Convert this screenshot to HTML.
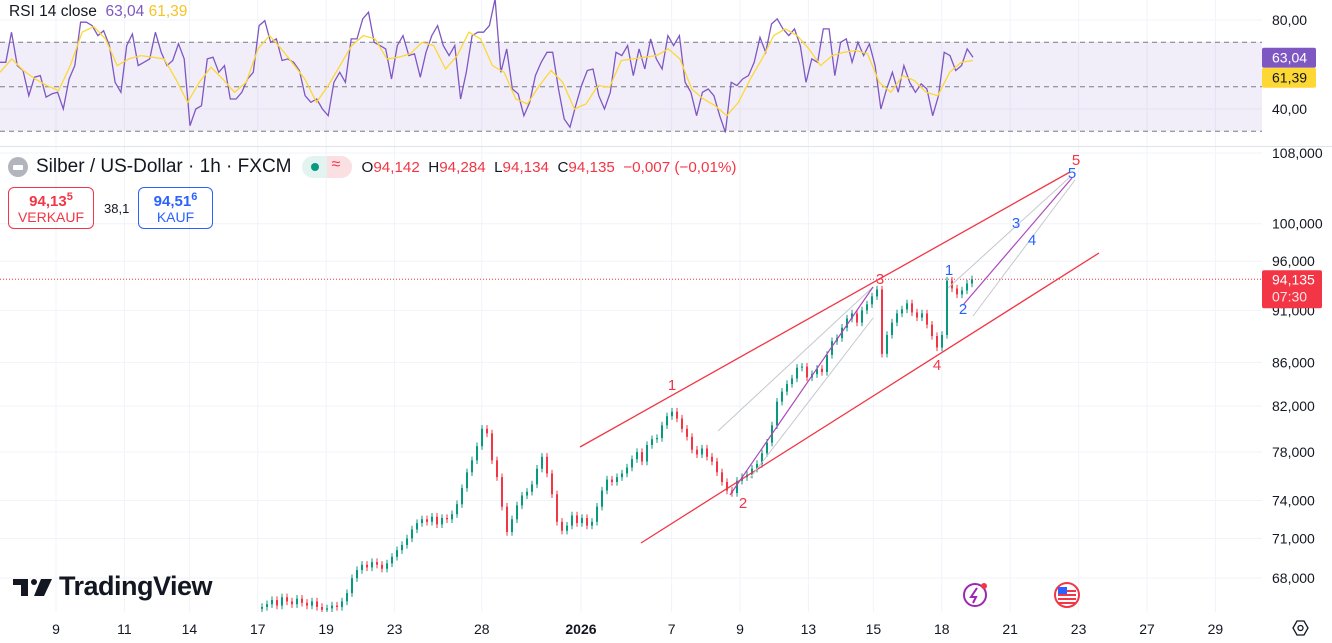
<!DOCTYPE html>
<html><head><meta charset="utf-8">
<style>
html,body{margin:0;padding:0;background:#fff;width:1332px;height:643px;overflow:hidden;font-family:"Liberation Sans",sans-serif;}
svg{position:absolute;left:0;top:0;}
text{font-family:"Liberation Sans",sans-serif;}
</style></head>
<body>
<svg id="chart" width="1332" height="643">
  <defs>
    <clipPath id="plotclip"><rect x="0" y="148" width="1262" height="464"/></clipPath>
    <clipPath id="rsiclip"><rect x="0" y="0" width="1262" height="146"/></clipPath>
  </defs>
  <g id="grid"></g>
  <rect x="0" y="42" width="1262" height="89" fill="#7e57c2" fill-opacity="0.1"/>
  <g id="rsiLines"></g>
  <g id="rsi" clip-path="url(#rsiclip)"></g>
  <line x1="0" y1="146.5" x2="1332" y2="146.5" stroke="#e0e3eb" stroke-width="1"/>
  <g id="candles" clip-path="url(#plotclip)"></g>
  <g id="draw"></g>
  <g id="axes"></g>
</svg>

<div style="position:absolute;left:9px;top:3px;font-size:15.5px;color:#131722;white-space:nowrap">RSI 14 close&nbsp; <span style="color:#7e57c2">63,04</span> <span style="color:#f7c325">61,39</span></div>

<div style="position:absolute;left:8px;top:156px;height:22px;white-space:nowrap;display:flex;align-items:center">
  <div style="width:20px;height:20px;border-radius:50%;background:#b2b5be;margin-right:8px;position:relative"><div style="position:absolute;left:5px;top:8px;width:10px;height:5px;background:#fff;border-radius:1px"></div></div>
  <span style="font-size:19px;color:#131722">Silber / US-Dollar · 1h · FXCM</span>
  <div style="margin-left:10px;width:50px;height:22px;border-radius:11px;background:#e3f3ef;position:relative;overflow:hidden">
    <div style="position:absolute;left:25px;top:0;width:25px;height:22px;background:#fbe0e3"></div>
    <div style="position:absolute;left:9px;top:7px;width:8px;height:8px;border-radius:50%;background:#089981"></div>
    <div style="position:absolute;left:30px;top:0px;font-size:16px;color:#f23645">≈</div>
  </div>
  <span style="margin-left:10px;font-size:15.2px;color:#131722">O<span style="color:#f23645">94,142</span>&nbsp; H<span style="color:#f23645">94,284</span>&nbsp; L<span style="color:#f23645">94,134</span>&nbsp; C<span style="color:#f23645">94,135&nbsp; −0,007 (−0,01%)</span></span>
</div>

<div style="position:absolute;left:8px;top:187px;width:86px;height:42px;border:1px solid #f23645;border-radius:6px;text-align:center;color:#f23645;box-sizing:border-box">
  <div style="font-size:15px;font-weight:bold;margin-top:3px">94,13<sup style="font-size:11px">5</sup></div>
  <div style="font-size:14px;margin-top:-1px">VERKAUF</div>
</div>
<div style="position:absolute;left:104px;top:201px;font-size:13px;color:#131722">38,1</div>
<div style="position:absolute;left:138px;top:187px;width:75px;height:42px;border:1px solid #2962ff;border-radius:6px;text-align:center;color:#2962ff;box-sizing:border-box">
  <div style="font-size:15px;font-weight:bold;margin-top:3px">94,51<sup style="font-size:11px">6</sup></div>
  <div style="font-size:14px;margin-top:-1px">KAUF</div>
</div>

<div style="position:absolute;left:13px;top:571px;display:flex;align-items:center;white-space:nowrap">
  <svg width="40" height="22" style="position:static"><rect x="0" y="3" width="15" height="6" fill="#131722"/><rect x="8" y="3" width="7" height="17" fill="#131722"/><circle cx="21" cy="6" r="3" fill="#131722"/><polygon points="28,3 39,3 31,20 21,20" fill="#131722"/></svg>
  <span style="font-size:27px;font-weight:bold;color:#131722;margin-left:6px;letter-spacing:-0.5px">TradingView</span>
</div>

<script>
// ---------- data ----------
const priceCloses = [65900,66100,66400,66000,66600,66300,66100,66500,66200,66000,66300,65900,65700,65800,66000,65900,66300,66900,68000,68600,69000,68800,69200,69000,68700,69100,69600,70100,70500,71000,71700,72200,72500,72300,72700,72100,72600,72500,72900,73700,75000,76300,77300,78500,80000,79600,77300,75900,73500,71500,72500,73600,74400,74700,75300,76600,77600,76200,74500,72300,71600,72000,72800,72200,72600,72000,72300,73500,74800,75700,75500,75900,76200,76700,77400,78000,77200,78600,79100,79200,80300,81100,81500,80900,80000,79300,78200,77800,78300,77600,77200,76300,75500,74800,74600,75600,75900,76100,76600,77000,77900,78800,80300,82400,83300,84000,84500,85500,85600,84600,84900,85400,85100,86700,88000,88300,89300,90200,90700,89800,91000,91600,92400,93100,86800,88600,89800,90700,91100,91700,90800,90300,90700,89600,88500,87400,88600,94000,93200,92600,93000,93700,94135];
const rsiValues = [61,61,74.5,59.5,57.3,46,54.3,55,45.3,46.8,47.5,40,53.5,59.5,79,79,77.5,73,75.2,68.5,52,47.5,68.5,73.7,59.5,61,62.5,74.5,65.5,59.5,61.8,69.3,62.5,32.5,40,41.5,62.5,63.3,56.5,59.5,44.5,44.5,47.5,53.5,56.5,77.5,79.7,70,71.5,61.8,62.5,61,57.3,46,43,44.5,40,37,52,56.5,52,71.5,71.5,80.5,83.5,70,68.5,67,53.5,68.5,73,64,64.8,54.3,65.5,73,77.5,68.5,64,68.5,44.5,56.5,73,74.5,74.5,77.5,89.5,56.5,67,49,46.8,37,43,55,61,65.5,65.5,49,35.5,31.8,41.5,50.5,57.3,58,46,40,47.5,65.5,64,68.5,55,67,58,71.5,62.5,58,73,68.5,73,52,47.5,37,47.5,49,46,37,29.5,52,50.5,53.5,55,61,72.2,65.5,78.2,80.5,76,73,76,68.5,52,62.5,61,76,76,55,70,71.5,61,70,64,69.3,59.5,40,49,56.5,47.5,59.5,52,47.5,51.3,49,37,46,65.5,64,57.3,59.5,67,63.3];
const rsiMA = [56.5,62.5,57.3,53.5,50.5,48.3,59.5,74.5,77,71.5,59.5,62.5,64,63.3,62.5,53.5,43,52,58.8,53.5,47.5,52,67,73,67,60.3,53.5,43,50.5,59.5,68.5,73,71.5,62.5,63.3,64.8,70,68.5,58,64,74.5,71.5,59.5,56.5,44.5,42.3,50.5,57.3,52,40,42.3,50.5,49.8,61.8,62.5,63.3,64,67,62.5,49,44.5,41.5,37,43,53.5,62.5,73,76,73,67,59.5,64,65.5,66.3,64.8,52,47.5,55,52.8,47.5,46,56.5,61,61.8];
const priceTicks = [108000,100000,96000,91000,86000,82000,78000,74000,71000,68000];
const rsiTicks = [80,40];
const timeLabels = ["9","11","14","17","19","23","28","2026","7","9","13","15","18","21","23","27","29"];
const timeSlots = [0,2,3.9,5.9,7.9,9.9,12.45,15.35,18,20,22,23.9,25.9,27.9,29.9,31.9,33.9]; // trading-day offset of each label

// ---------- scales ----------
const NS='http://www.w3.org/2000/svg';
const yP = p => 153 + 919*Math.log(108000/p);
const yR = v => 20 + (80-v)*2.225;
const xDay = d => 56 + d*34.2;
const candleX = i => 262 + i*5;
const rsiX = (i,n) => i*973/(n-1);
function mk(tag, attrs, parent){const e=document.createElementNS(NS,tag);for(const k in attrs)e.setAttribute(k,attrs[k]);parent.appendChild(e);return e;}

const grid=document.getElementById('grid');
timeSlots.forEach((d,i)=>{
  const l=mk('line',{x1:xDay(d),x2:xDay(d),y1:0,y2:612,stroke:'#f0f3fa','stroke-width':1},grid);
  
  
});
priceTicks.forEach(p=>{
  const l=mk('line',{x1:0,x2:1262,y1:yP(p),y2:yP(p),stroke:'#f0f3fa','stroke-width':1},grid);
  
  
});
rsiTicks.forEach(v=>{
  const l=mk('line',{x1:0,x2:1262,y1:yR(v),y2:yR(v),stroke:'#f0f3fa','stroke-width':1},grid);
  
  
});
const rl=document.getElementById('rsiLines');
[70,50,30].forEach(v=>{
  const l=mk('line',{x1:0,x2:1262,y1:yR(v),y2:yR(v),stroke:'#787b86','stroke-width':1,'stroke-dasharray':'5,4'},rl);
  
  
});

// RSI lines
const rsiG=document.getElementById('rsi');
const rp=rsiValues.map((v,i)=>rsiX(i,rsiValues.length).toFixed(1)+','+yR(v).toFixed(1)).join(' ');
const rline=mk('polyline',{points:rp,fill:'none',stroke:'#7e57c2','stroke-width':1.3},rsiG);


const mp=rsiMA.map((v,i)=>rsiX(i,rsiMA.length).toFixed(1)+','+yR(v).toFixed(1)).join(' ');
const mline=mk('polyline',{points:mp,fill:'none',stroke:'#fdd835','stroke-width':1.3},rsiG);



// candles
const cg=document.getElementById('candles');
priceCloses.forEach((c,i)=>{
  const o = i>0 ? priceCloses[i-1] : c*0.998;
  const hi=Math.max(o,c)*1.004, lo=Math.min(o,c)*0.996;
  const col = c>=o ? '#089981' : '#f23645';
  const x=candleX(i);
  const w=mk('line',{x1:x,x2:x,y1:yP(hi),y2:yP(lo),stroke:col,'stroke-width':1},cg);
  
  
  const top=yP(Math.max(o,c)), bot=yP(Math.min(o,c));
  const b=mk('rect',{x:x-1,y:top,width:2,height:Math.max(1,bot-top),fill:col},cg);
  
  
});

// drawings
const dg=document.getElementById('draw');
function ln(x1,y1,x2,y2,col,w,name){const l=mk('line',{x1,y1,x2,y2,stroke:col,'stroke-width':w},dg);}
function lbl(x,y,t,col,name){const e=mk('text',{x,y,fill:col,'font-size':15,'text-anchor':'middle'},dg);e.textContent=t;}
const last=priceCloses[priceCloses.length-1];
const dl=mk('line',{x1:0,x2:1262,y1:yP(last),y2:yP(last),stroke:'#f23645','stroke-width':1,'stroke-dasharray':'1,2'},dg);


ln(580,447,1070,172,'#f23645',1.3,'channel-upper');
ln(641,543,1099,253,'#f23645',1.3,'channel-lower');
ln(718,431,873,287,'#c5c7ce',1,'wave-guide-upper');
ln(750,478,873,318,'#c5c7ce',1,'wave-guide-lower');
ln(730,495,873,287,'#ab47bc',1.2,'wave-3-line');
ln(948,288,1070,177,'#c5c7ce',1,'sub-guide-upper');
ln(973,316,1075,180,'#c5c7ce',1,'sub-guide-lower');
ln(963,305,1072,178,'#ab47bc',1.2,'sub-wave-line');
lbl(672,390,'1','#f23645','wave-label-1');
lbl(743,508,'2','#f23645','wave-label-2');
lbl(880,284,'3','#f23645','wave-label-3');
lbl(937,370,'4','#f23645','wave-label-4');
lbl(1076,165,'5','#f23645','wave-label-5');
lbl(949,275,'1','#2962ff','sub-label-1');
lbl(963,314,'2','#2962ff','sub-label-2');
lbl(1016,228,'3','#2962ff','sub-label-3');
lbl(1032,245,'4','#2962ff','sub-label-4');
lbl(1072,178,'5','#2962ff','sub-label-5');

// axes
const ag=document.getElementById('axes');
function txt(x,y,t,opts,name){const e=mk('text',Object.assign({x,y,fill:'#131722','font-size':14},opts),ag);e.textContent=t;return e;}
priceTicks.forEach(p=>{
  txt(1272,yP(p)+5,(p/1000).toFixed(3).replace('.',','),{},'price-tick-label');
});
rsiTicks.forEach(v=>{
  txt(1272,yR(v)+5,v.toFixed(2).replace('.',','),{},'rsi-tick-label');
});
timeLabels.forEach((t,i)=>{
  txt(xDay(timeSlots[i]),634,t,{'text-anchor':'middle','font-weight':t==='2026'?'bold':'normal'},'time-tick-label');
});
// RSI value tags
const r1=mk('rect',{x:1262,y:yR(63.04)-10,width:54,height:20,rx:2,fill:'#7e57c2'},ag);


txt(1272,yR(63.04)+5,'63,04',{fill:'#fff'},'rsi-value-text');
const r2=mk('rect',{x:1262,y:yR(63.04)+10,width:54,height:20,rx:2,fill:'#fdd835'},ag);


txt(1272,yR(63.04)+25,'61,39',{},'rsi-ma-text');
// price tag
const pt=mk('rect',{x:1262,y:yP(last)-9,width:60,height:38,rx:2,fill:'#f23645'},ag);


txt(1272,yP(last)+5,'94,135',{fill:'#fff'},'last-price-text');
txt(1272,yP(last)+22,'07:30',{fill:'#fde3e5'},'countdown-text');
// bottom icons
const ic1=mk('circle',{cx:975,cy:595,r:11,fill:'none',stroke:'#9c27b0','stroke-width':2},ag);


const ic1b=mk('path',{d:'M977 588 L971 597 L976 597 L973 603',fill:'none',stroke:'#9c27b0','stroke-width':2},ag);


const ic1c=mk('circle',{cx:984,cy:586,r:3,fill:'#f23645'},ag);


const ic2=mk('circle',{cx:1067,cy:595,r:12,fill:'#fff',stroke:'#f23645','stroke-width':2},ag);


[0,1,2,3].forEach(k=>{const s=mk('rect',{x:1058,y:590+k*4,width:18,height:2,fill:'#f23645'},ag);});
const cn=mk('rect',{x:1058,y:587,width:9,height:7,fill:'#2962ff'},ag);


const gear=mk('polygon',{points:'1293,628 1297,621 1304,621 1308,628 1304,635 1297,635',fill:'#fff',stroke:'#131722','stroke-width':1.3},ag);


const gc=mk('circle',{cx:1300.5,cy:628,r:2.5,fill:'none',stroke:'#131722','stroke-width':1.3},ag);


</script>
</body></html>
